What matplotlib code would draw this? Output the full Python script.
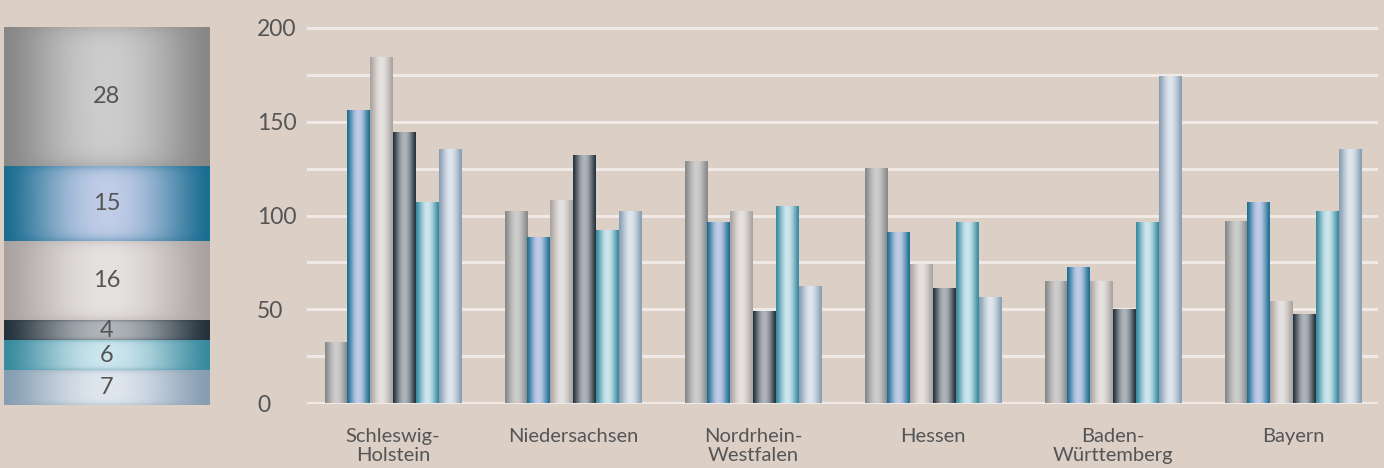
import numpy as np
import matplotlib
matplotlib.use("Agg")
import matplotlib.pyplot as plt
from matplotlib.colors import to_rgb

# data
regions = ["Schleswig-\nHolstein", "Niedersachsen", "Nordrhein-\nWestfalen",
           "Hessen", "Baden-\nWürttemberg", "Bayern"]
s_grey = [32, 102, 129, 125, 65, 97]
s_blue = [156, 88, 96, 91, 72, 107]
s_light = [184, 108, 102, 74, 65, 54]
s_dark = [144, 132, 49, 61, 50, 47]
s_teal = [107, 92, 105, 96, 96, 102]
s_lblue = [135, 102, 62, 56, 174, 135]
series = [s_grey, s_blue, s_light, s_dark, s_teal, s_lblue]

stack_values = [28, 15, 16, 4, 6, 7]  # top to bottom

y_ticks = [0, 50, 100, 150, 200]

# (edge colour, centre colour) for the cylinder look
shades = [("#878787", "#cdcdcd"),
          ("#1b6d91", "#c2cde8"),
          ("#a9a2a0", "#e6e2e0"),
          ("#24323d", "#b0b5ba"),
          ("#388a9e", "#cde6ee"),
          ("#869db2", "#dfe6ee")]

bg = "#dbcfc6"
txt = "#555555"
grid_c = "#f0e9e5"
font = "Lato"


def h_profile(edge, centre, n=64):
    t = np.linspace(0, 1, n)
    s = np.sin(np.pi * t) ** 1.3
    e = np.array(to_rgb(edge))
    c = np.array(to_rgb(centre))
    return e[None, :] * (1 - s[:, None]) + c[None, :] * s[:, None]


def gradient_fill(ax, patch, edge, centre, v_shade=False):
    x, y = patch.get_x(), patch.get_y()
    w, h = patch.get_width(), patch.get_height()
    row = h_profile(edge, centre)
    img = np.repeat(row[None, :, :], 48, axis=0)
    if v_shade:
        t = np.linspace(0, 1, 48)
        d = np.exp(-t / 0.06) + np.exp(-(1 - t) / 0.06)
        d = np.clip(d, 0, 1) * 0.35
        img = img * (1 - d[:, None, None]) + np.array(to_rgb(edge)) * d[:, None, None]
    ax.imshow(img, extent=[x, x + w, y, y + h], aspect="auto",
              interpolation="bicubic", zorder=3, origin="lower")
    patch.set_visible(False)


fig = plt.figure(figsize=(13.84, 4.68), dpi=100)
fig.patch.set_facecolor(bg)

# main grouped bar chart
ax = fig.add_axes([307 / 1384, 64 / 468, 1071 / 1384, 377 / 468])
ax.set_facecolor(bg)
x = np.arange(len(regions))
w = 0.1267
for j, vals in enumerate(series):
    bars = ax.bar(x + (j - 2.5) * w, vals, width=w, zorder=3)
    for b in bars:
        gradient_fill(ax, b, *shades[j])

ax.set_xlim(-0.478, 5.472)
ax.set_ylim(-0.5, 200.5)
ax.set_yticks(y_ticks)
ax.set_yticks(np.arange(25, 200, 50), minor=True)
ax.grid(True, axis="y", which="both", color=grid_c, linewidth=2.2, zorder=0)
ax.set_axisbelow(True)
for sp in ax.spines.values():
    sp.set_visible(False)
ax.tick_params(axis="both", which="both", length=0)
ax.tick_params(axis="y", pad=36, labelsize=16.5, labelcolor=txt)
ax.tick_params(axis="x", pad=17, labelsize=14.5, labelcolor=txt)
ax.set_xticks(x)
ax.set_xticklabels(regions, linespacing=1.15, fontfamily=font)
for lab in ax.get_yticklabels():
    lab.set_horizontalalignment("left")
    lab.set_fontfamily(font)

# stacked legend-like bar on the left
ax2 = fig.add_axes([4 / 1384, 63 / 468, 206 / 1384, 378 / 468])
ax2.set_facecolor(bg)
bottom = 0
for j in range(len(stack_values) - 1, -1, -1):
    v = stack_values[j]
    b = ax2.bar(0, v, bottom=bottom, width=1.0)[0]
    gradient_fill(ax2, b, *shades[j], v_shade=True)
    ax2.text(0, bottom + v / 2, str(v), ha="center", va="center",
             fontsize=17, color=txt, fontfamily=font, zorder=5)
    bottom += v
ax2.set_xlim(-0.5, 0.5)
ax2.set_ylim(0, sum(stack_values))
ax2.axis("off")

fig.savefig("out.png", dpi=100, facecolor=bg)
